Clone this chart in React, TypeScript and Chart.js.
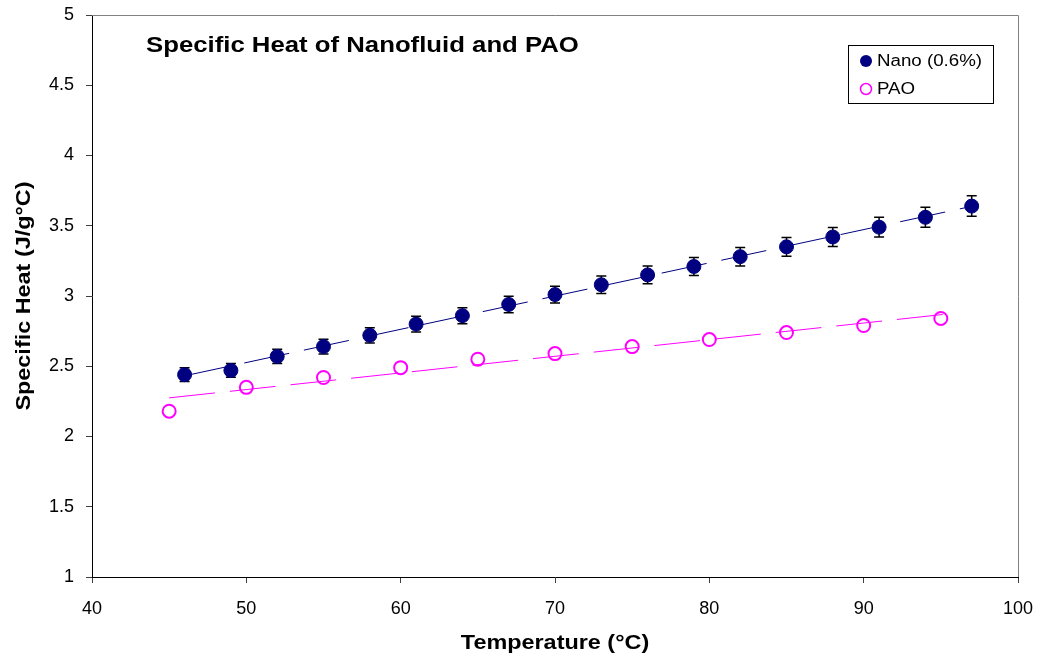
import { useEffect, useRef } from "react";
import { Chart, registerables } from "chart.js";

Chart.register(...registerables);

// ---- Data ----
const nanoTemps = [46, 49, 52, 55, 58, 61, 64, 67, 70, 73, 76, 79, 82, 85, 88, 91, 94, 97];
const nanoCp = [2.44, 2.47, 2.57, 2.64, 2.72, 2.8, 2.86, 2.94, 3.01, 3.08, 3.15, 3.21, 3.28, 3.35, 3.42, 3.49, 3.56, 3.64];
const nanoErr = [0.049, 0.049, 0.051, 0.053, 0.054, 0.056, 0.057, 0.059, 0.06, 0.062, 0.063, 0.064, 0.066, 0.067, 0.068, 0.07, 0.071, 0.073];
const paoTemps = [45, 50, 55, 60, 65, 70, 75, 80, 85, 90, 95];
const paoCp = [2.18, 2.35, 2.42, 2.49, 2.55, 2.59, 2.64, 2.69, 2.74, 2.79, 2.84];
const nanoTrendRange = [46, 97];
const paoTrendRange = [45, 96];

const xMin = 40, xMax = 100, xStep = 10;
const yMin = 1, yMax = 5, yStep = 0.5;

const chartTitle = "Specific Heat of Nanofluid and PAO";
const xTitle = "Temperature (°C)";
const yTitle = "Specific Heat (J/g°C)";
const nanoLabel = "Nano (0.6%)";
const paoLabel = "PAO";

const NAVY = "#000080";
const MAGENTA = "#FF00FF";
const FONT = "'Liberation Sans', Arial, Helvetica, sans-serif";

function linFit(xs: number[], ys: number[]) {
  const n = xs.length;
  const mx = xs.reduce((a, b) => a + b, 0) / n;
  const my = ys.reduce((a, b) => a + b, 0) / n;
  let sxy = 0, sxx = 0;
  for (let i = 0; i < n; i++) {
    sxy += (xs[i] - mx) * (ys[i] - my);
    sxx += (xs[i] - mx) * (xs[i] - mx);
  }
  const m = sxy / sxx;
  return { m, b: my - m * mx };
}

function trendPoints(xs: number[], ys: number[], range: number[]) {
  const { m, b } = linFit(xs, ys);
  return range.map((x) => ({ x, y: m * x + b }));
}

function stretchText(ctx: CanvasRenderingContext2D, text: string, x: number, y: number, sx: number, align: CanvasTextAlign, baseline: CanvasTextBaseline, rot = 0) {
  ctx.save();
  ctx.translate(x, y);
  if (rot) ctx.rotate(rot);
  ctx.scale(sx, 1);
  ctx.textAlign = align;
  ctx.textBaseline = baseline;
  ctx.fillText(text, 0, 0);
  ctx.restore();
}

const decorPlugin = {
  id: "decor",
  beforeDatasetsDraw(chart: any) {
    const ctx: CanvasRenderingContext2D = chart.ctx;
    const xs = chart.scales.x;
    const ys = chart.scales.y;
    ctx.save();
    ctx.strokeStyle = "#000";
    ctx.lineWidth = 1.5;
    for (let i = 0; i < nanoTemps.length; i++) {
      const px = xs.getPixelForValue(nanoTemps[i]);
      const pt = ys.getPixelForValue(nanoCp[i] + nanoErr[i]);
      const pb = ys.getPixelForValue(nanoCp[i] - nanoErr[i]);
      ctx.beginPath();
      ctx.moveTo(px, pt);
      ctx.lineTo(px, pb);
      ctx.moveTo(px - 5, pt);
      ctx.lineTo(px + 5, pt);
      ctx.moveTo(px - 5, pb);
      ctx.lineTo(px + 5, pb);
      ctx.stroke();
    }
    ctx.restore();
  },
  afterDraw(chart: any) {
    const ctx: CanvasRenderingContext2D = chart.ctx;
    const a = chart.chartArea;
    ctx.save();
    // top & right frame
    ctx.strokeStyle = "#808080";
    ctx.lineWidth = 1;
    ctx.beginPath();
    ctx.moveTo(a.left, a.top + 0.5);
    ctx.lineTo(a.right + 0.5, a.top + 0.5);
    ctx.lineTo(a.right + 0.5, a.bottom);
    ctx.stroke();

    ctx.fillStyle = "#000";
    // chart title
    ctx.font = `bold 22px ${FONT}`;
    stretchText(ctx, chartTitle, 146, 52, 1.17, "left", "alphabetic");
    // axis titles
    ctx.font = `bold 20px ${FONT}`;
    stretchText(ctx, xTitle, (a.left + a.right) / 2, 649, 1.17, "center", "alphabetic");
    stretchText(ctx, yTitle, 30, (a.top + a.bottom) / 2, 1.17, "center", "alphabetic", -Math.PI / 2);

    // legend
    ctx.strokeStyle = "#000";
    ctx.lineWidth = 1;
    ctx.strokeRect(848.5, 45.5, 145, 58);
    ctx.fillStyle = NAVY;
    ctx.beginPath();
    ctx.arc(866, 61, 6, 0, Math.PI * 2);
    ctx.fill();
    ctx.strokeStyle = MAGENTA;
    ctx.lineWidth = 1.5;
    ctx.beginPath();
    ctx.arc(866, 89, 5.5, 0, Math.PI * 2);
    ctx.stroke();
    ctx.fillStyle = "#000";
    ctx.font = `16px ${FONT}`;
    stretchText(ctx, nanoLabel, 877, 62, 1.17, "left", "middle");
    stretchText(ctx, paoLabel, 877, 90, 1.17, "left", "middle");
    ctx.restore();
  },
};

export default function App() {
  const ref = useRef<HTMLCanvasElement>(null);

  useEffect(() => {
    document.body.style.margin = "0";
    const canvas = ref.current!;
    const chart = new Chart(canvas, {
      type: "scatter",
      data: {
        datasets: [
          {
            label: nanoLabel,
            data: nanoTemps.map((x, i) => ({ x, y: nanoCp[i] })),
            backgroundColor: NAVY,
            borderColor: NAVY,
            borderWidth: 1,
            pointRadius: 7,
            pointHoverRadius: 7,
          },
          {
            label: paoLabel,
            data: paoTemps.map((x, i) => ({ x, y: paoCp[i] })),
            backgroundColor: "rgba(0,0,0,0)",
            borderColor: MAGENTA,
            borderWidth: 2,
            pointRadius: 6.5,
            pointHoverRadius: 6.5,
          },
          {
            label: "Nano trend",
            data: trendPoints(nanoTemps, nanoCp, nanoTrendRange),
            showLine: true,
            borderColor: NAVY,
            borderWidth: 1,
            borderDash: [46, 15],
            pointRadius: 0,
            fill: false,
          },
          {
            label: "PAO trend",
            data: trendPoints(paoTemps, paoCp, paoTrendRange),
            showLine: true,
            borderColor: MAGENTA,
            borderWidth: 1,
            borderDash: [46, 15],
            pointRadius: 0,
            fill: false,
          },
        ] as any,
      },
      options: {
        responsive: false,
        animation: false,
        events: [],
        layout: { padding: { left: 0, right: 20, top: 15, bottom: 0 } },
        plugins: {
          legend: { display: false },
          tooltip: { enabled: false },
          title: { display: false },
        },
        scales: {
          x: {
            type: "linear",
            min: xMin,
            max: xMax,
            ticks: { stepSize: xStep, color: "#000", font: { family: FONT, size: 18 }, padding: 15, callback: (v: any) => String(Number(v)) },
            grid: { drawOnChartArea: false, drawTicks: true, tickLength: 6, color: "#404040" },
            border: { color: "#000", width: 1 },
            afterFit: (s: any) => { s.height = 81; s.paddingLeft = 0; s.paddingRight = 0; },
          },
          y: {
            type: "linear",
            min: yMin,
            max: yMax,
            ticks: { stepSize: yStep, color: "#000", font: { family: FONT, size: 18 }, padding: 12, callback: (v: any) => String(Number(v)) },
            grid: { drawOnChartArea: false, drawTicks: true, tickLength: 6, color: "#404040" },
            border: { color: "#000", width: 1 },
            afterFit: (s: any) => { s.width = 92; s.paddingTop = 0; s.paddingBottom = 0; },
          },
        },
      } as any,
      plugins: [decorPlugin],
    });
    return () => chart.destroy();
  }, []);

  return (
    <div style={{ position: "absolute", left: 0, top: 0, width: 1038, height: 658, background: "#fff" }}>
      <canvas ref={ref} width={1038} height={658} style={{ display: "block" }} />
    </div>
  );
}
